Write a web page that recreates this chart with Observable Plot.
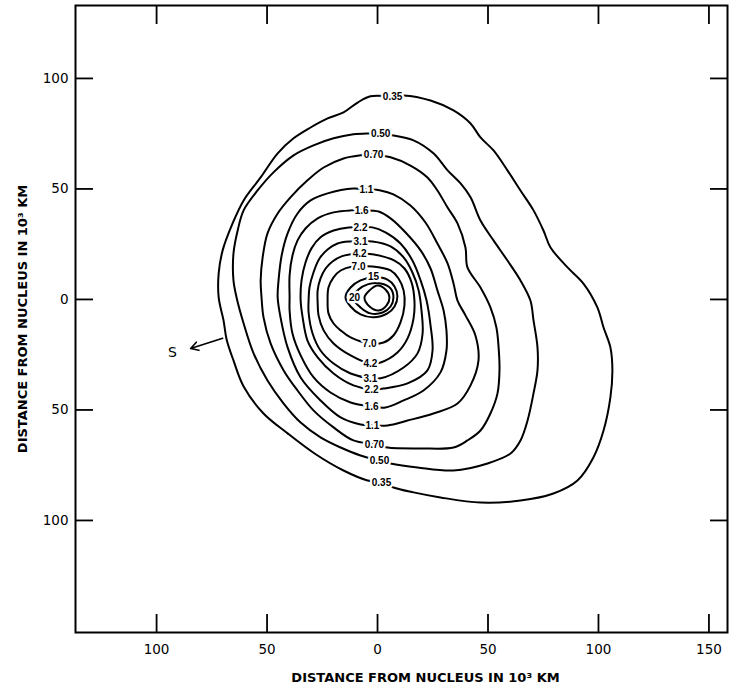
<!DOCTYPE html>
<html>
<head>
<meta charset="utf-8">
<script src="https://cdn.jsdelivr.net/npm/d3@7"></script>
<script src="https://cdn.jsdelivr.net/npm/@observablehq/plot@0.6"></script>
<style>
  html, body { margin: 0; padding: 0; background: #fff; }
  svg { display: block; }
</style>
</head>
<body>
<div id="chart"></div>
<script>
// Isophote contours of the coma, positions in 10^3 km from the nucleus.
const xTicks = [-100, -50, 0, 50, 100, 150];
const yTicks = [100, 50, 0, -50, -100];

const c035 = [[6.8,91.9],[-3.2,91.9],[-9.0,89.1],[-15.4,84.6],[-22.6,81.9],[-30.3,77.8],[-38.0,72.9],[-45.2,66.1],[-52.9,55.2],[-60.6,44.8],[-65.6,34.4],[-70.1,22.2],[-71.9,11.8],[-71.9,0.9],[-69.7,-9.5],[-68.3,-18.1],[-65.2,-27.6],[-60.6,-39.4],[-51.6,-51.6],[-40.7,-60.6],[-28.5,-69.7],[-15.4,-77.4],[-4.5,-81.9],[2.3,-82.8],[7.2,-85.1],[16.3,-87.3],[28.5,-89.6],[46.6,-91.9],[64.7,-91.0],[79.6,-87.8],[90.5,-81.9],[97.7,-71.5],[102.3,-59.3],[105.4,-44.3],[106.3,-32.1],[105.4,-21.7],[102.3,-12.7],[99.5,-3.6],[93.2,7.2],[86.0,14.5],[78.3,23.5],[75.1,31.2],[70.6,40.3],[64.7,49.3],[58.8,58.4],[52.5,67.4],[46.6,73.3],[42.1,79.6],[34.4,85.5],[24.0,90.0],[11.8,92.3]];
const c050 = [[1.4,75.1],[-4.1,75.1],[-10.9,74.7],[-19.9,72.9],[-29.0,69.7],[-38.0,65.2],[-47.1,57.5],[-54.3,49.3],[-60.6,40.3],[-63.3,31.2],[-65.2,20.8],[-65.2,8.6],[-63.8,0.9],[-60.6,-10.9],[-56.1,-24.4],[-49.8,-36.7],[-42.5,-47.1],[-34.8,-55.7],[-25.8,-62.4],[-16.7,-67.0],[-7.7,-70.6],[0.9,-72.9],[5.9,-74.2],[18.1,-76.0],[34.4,-77.4],[49.8,-74.2],[60.2,-69.7],[64.7,-63.8],[67.9,-54.8],[70.6,-42.5],[72.4,-32.1],[72.4,-21.7],[70.6,-9.5],[69.2,-0.5],[64.7,8.6],[58.8,17.6],[52.5,26.7],[46.6,35.7],[42.1,46.2],[37.6,52.5],[31.7,58.4],[25.3,66.1],[16.3,72.0],[7.2,74.2]];
const c070 = [[-1.8,65.6],[-7.7,65.2],[-15.4,63.8],[-24.4,59.7],[-31.7,53.9],[-39.4,46.2],[-45.2,38.9],[-49.8,29.9],[-52.0,19.0],[-52.9,8.6],[-52.5,0.9],[-51.6,-8.1],[-48.4,-19.9],[-42.5,-32.1],[-36.2,-41.2],[-29.0,-50.2],[-19.9,-57.9],[-10.9,-63.8],[-1.4,-65.6],[4.5,-67.0],[19.5,-67.4],[34.4,-67.0],[40.7,-63.8],[46.6,-59.3],[51.1,-51.6],[54.3,-42.5],[55.2,-32.1],[54.8,-21.7],[53.8,-12.7],[51.1,-3.6],[46.6,5.4],[40.7,14.5],[39.8,23.5],[36.2,34.4],[31.7,41.6],[27.1,49.3],[22.6,55.2],[14.9,60.6],[5.9,64.3]];
const c110 = [[-5.0,49.8],[-10.9,50.2],[-22.6,48.0],[-30.3,44.8],[-36.2,38.9],[-40.7,29.9],[-43.4,19.9],[-44.8,8.6],[-45.2,0.9],[-43.9,-8.1],[-40.7,-21.7],[-34.8,-35.3],[-25.8,-45.7],[-16.7,-53.4],[-7.7,-56.6],[-2.3,-57.0],[4.5,-57.0],[13.6,-54.8],[25.3,-51.6],[36.2,-47.1],[42.1,-38.9],[45.7,-27.6],[44.3,-16.3],[39.8,-7.2],[36.2,-0.5],[34.4,7.2],[31.7,16.3],[27.1,25.3],[21.7,34.8],[14.9,42.5],[7.2,47.5],[1.4,49.3]];
const c160 = [[-7.2,40.3],[-12.2,40.3],[-19.9,39.4],[-27.1,36.7],[-32.6,32.1],[-36.2,26.7],[-38.5,19.9],[-39.8,10.9],[-39.8,0.9],[-39.8,-5.0],[-38.5,-15.4],[-34.8,-25.3],[-28.9,-35.3],[-21.3,-42.1],[-12.2,-46.6],[-2.7,-48.4],[3.6,-48.9],[11.8,-45.7],[20.8,-41.2],[28.5,-33.0],[31.2,-23.1],[31.2,-14.0],[29.9,-5.0],[27.1,4.1],[24.0,14.0],[19.5,22.2],[12.7,30.3],[5.9,36.7],[0.5,39.8]];
const c220 = [[-7.7,32.6],[-13.1,32.6],[-19.9,31.2],[-25.8,28.1],[-29.9,23.1],[-32.6,16.7],[-34.4,8.6],[-34.8,-0.5],[-33.9,-8.1],[-31.7,-18.6],[-27.1,-26.2],[-19.9,-33.5],[-10.9,-38.9],[-2.7,-40.7],[2.7,-40.3],[13.6,-38.0],[22.6,-32.1],[24.9,-23.1],[24.0,-11.8],[22.2,-0.5],[19.5,8.6],[15.8,17.6],[10.4,25.3],[3.6,30.3],[-2.3,32.6]];
const c310 = [[-7.7,26.2],[-12.7,26.2],[-18.1,25.3],[-22.6,22.6],[-26.2,18.6],[-29.0,12.2],[-30.8,5.4],[-31.2,-0.5],[-31.2,-5.9],[-29.4,-15.4],[-25.8,-23.1],[-19.9,-29.0],[-12.2,-33.5],[-3.2,-35.7],[1.4,-35.7],[11.8,-30.8],[18.1,-24.4],[20.4,-15.4],[19.9,-5.0],[18.6,4.1],[15.8,12.2],[11.8,19.0],[5.9,24.0],[-2.3,26.2]];
const c420 = [[-8.1,20.8],[-12.2,20.4],[-16.3,19.5],[-20.4,17.2],[-23.5,14.0],[-25.8,9.5],[-27.1,4.1],[-27.1,-1.4],[-26.7,-7.2],[-24.4,-14.0],[-19.9,-19.9],[-12.2,-25.3],[-3.2,-29.0],[1.4,-28.5],[9.0,-24.0],[13.6,-17.6],[16.3,-8.6],[16.7,-0.5],[15.4,7.7],[12.2,14.0],[7.7,17.6],[-2.3,20.4]];
const c700 = [[-8.6,14.9],[-11.3,14.9],[-16.7,13.1],[-19.9,10.0],[-22.2,5.4],[-22.6,-0.5],[-22.2,-6.3],[-19.9,-10.9],[-16.7,-14.0],[-12.2,-17.2],[-3.6,-19.9],[2.7,-19.5],[7.2,-16.3],[10.4,-10.4],[12.2,-2.7],[11.8,4.1],[9.5,9.5],[5.9,13.1],[-2.3,14.9]];
const c15 = [[-1.8,10.0],[4.5,9.0],[7.7,5.9],[9.0,1.4],[7.7,-3.2],[4.5,-6.3],[-1.8,-8.1],[-7.7,-6.8],[-12.2,-3.2],[-14.5,0.9],[-12.2,5.4],[-7.7,8.6]];
const c20 = [[-11.3,0.9],[-8.6,4.5],[-4.5,6.8],[1.4,7.2],[5.9,5.0],[7.2,0.9],[5.9,-3.2],[2.3,-5.9],[-3.2,-6.3],[-7.7,-3.6]];
const cInner = [[-5.9,0.9],[-3.6,4.1],[0.0,6.3],[3.6,4.5],[5.4,0.9],[4.1,-2.7],[0.5,-5.0],[-3.6,-3.2]];

const levels = ["0.35", "0.50", "0.70", "1.1", "1.6", "2.2", "3.1", "4.2", "7.0", "15", "20", "inner"];
const contourPoints = [c035, c050, c070, c110, c160, c220, c310, c420, c700, c15, c20, cInner];

// label anchor points on the upper and lower arcs of each isophote
const labelsTop = [["0.35",6.8,91.9],["0.50",1.4,75.1],["0.70",-1.8,65.6],["1.1",-5.0,49.8],["1.6",-7.2,40.3],["2.2",-7.7,32.6],["3.1",-7.7,26.2],["4.2",-8.1,20.8],["7.0",-8.6,14.9],["15",-1.8,10.4],["20",-10.4,0.9]];
const labelsBottom = [["7.0",-3.6,-19.9],["4.2",-3.2,-29.0],["3.1",-3.2,-35.7],["2.2",-2.7,-40.7],["1.6",-2.7,-48.4],["1.1",-2.3,-57.0],["0.70",-1.4,-65.6],["0.50",0.9,-72.9],["0.35",1.8,-82.8]];

// direction to the Sun
const sunArrow = [{x1: -70.1, y1: -17.6, x2: -84.6, y2: -22.2}];
const sunLabel = [{x: -92.8, y: -24.0, text: "S"}];

const axisTitle = "DISTANCE FROM NUCLEUS IN 10\u00B3 KM";

const rows = levels.flatMap((level, i) => contourPoints[i].map(([x, y]) => ({level, x, y})));
const labelRows = [...labelsTop, ...labelsBottom].map(([level, x, y]) => ({level, x, y}));

const chart = Plot.plot({
  width: 732,
  height: 692,
  marginLeft: 75,
  marginRight: 5,
  marginTop: 5,
  marginBottom: 60,
  style: {fontFamily: "DejaVu Sans", background: "white", color: "black"},
  x: {domain: [-136.7, 158.4], label: null},
  y: {domain: [-150.7, 133], label: null},
  marks: [
    Plot.frame({stroke: "black", strokeWidth: 2}),
    Plot.axisX(xTicks, {anchor: "bottom", tickSize: -18, tickPadding: 30, strokeWidth: 1.8,
      tickFormat: d => Math.abs(d), fontSize: 13.5, label: null}),
    Plot.axisX(xTicks, {anchor: "top", tickSize: -18, strokeWidth: 1.8, tickFormat: () => "", label: null}),
    Plot.axisY(yTicks, {anchor: "left", tickSize: -18, tickPadding: 25, strokeWidth: 1.8,
      tickFormat: d => Math.abs(d), fontSize: 13.5, label: null}),
    Plot.axisY(yTicks, {anchor: "right", tickSize: -18, strokeWidth: 1.8, tickFormat: () => "", label: null}),
    Plot.line(rows, {x: "x", y: "y", z: "level", curve: "catmull-rom-closed", stroke: "black", strokeWidth: 2}),
    Plot.text(labelRows, {x: "x", y: "y", text: "level", fontSize: 10, fontWeight: "bold",
      fontFamily: "Liberation Sans", fill: "black", stroke: "white", strokeWidth: 4.5}),
    Plot.arrow(sunArrow, {x1: "x1", y1: "y1", x2: "x2", y2: "y2", stroke: "black", strokeWidth: 1.6, headLength: 8}),
    Plot.text(sunLabel, {x: "x", y: "y", text: "text", fontSize: 14, fill: "black"}),
    Plot.text([axisTitle], {text: d => d, frameAnchor: "bottom", textAnchor: "middle", lineAnchor: "middle",
      dx: 24, dy: 45, fontSize: 13, fontWeight: "bold", fill: "black", letterSpacing: "1.6px"}),
    Plot.text([axisTitle], {text: d => d, frameAnchor: "left", textAnchor: "middle", lineAnchor: "middle",
      dx: -53, rotate: -90, fontSize: 13, fontWeight: "bold", fill: "black", letterSpacing: "1.6px"})
  ]
});

document.getElementById("chart").appendChild(chart);
</script>
</body>
</html>
